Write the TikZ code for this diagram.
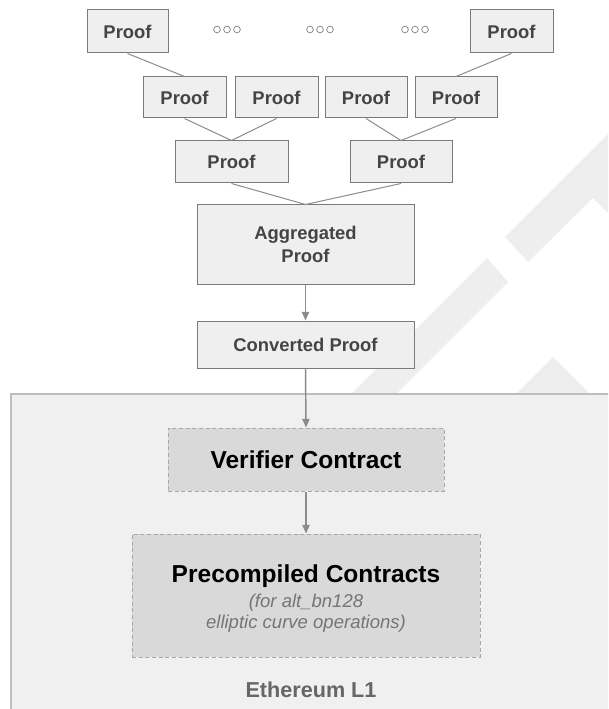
\documentclass[tikz,border=0pt]{standalone}
\usepackage{fontspec}
\setmainfont{Liberation Sans}
\usetikzlibrary{arrows.meta}
\definecolor{boxfill}{HTML}{EFEFEF}
\definecolor{boxline}{HTML}{7A7A7A}
\definecolor{proofink}{HTML}{444444}
\definecolor{wire}{HTML}{8C8C8C}
\definecolor{chainfill}{HTML}{F0F0F0}
\definecolor{chainline}{HTML}{BDBDBD}
\definecolor{contractfill}{HTML}{D9D9D9}
\definecolor{contractline}{HTML}{A8A8A8}
\definecolor{markfill}{HTML}{EEEEEE}
\definecolor{noteink}{HTML}{757575}
\definecolor{chainink}{HTML}{666666}
\begin{document}
\begin{tikzpicture}[x=0.75pt,y=-0.75pt,
  proofbox/.style={draw=boxline, fill=boxfill, line width=0.75pt, inner sep=0pt,
    text=proofink, font=\fontsize{13.8}{17.25}\selectfont\bfseries, align=center},
  contractbox/.style={draw=contractline, fill=contractfill, dash pattern=on 3pt off 2pt,
    line width=0.75pt, inner sep=0pt, align=center},
  titletext/.style={anchor=base, inner sep=0pt, font=\fontsize{18.4}{21}\selectfont\bfseries},
  notetext/.style={anchor=base, inner sep=0pt, text=noteink, font=\fontsize{13.9}{16}\selectfont\itshape},
  link/.style={draw=wire, line width=0.75pt},
  flow/.style={draw=wire, line width=1.1pt, -{Triangle[length=6.5pt,width=5.5pt]}},
  ring/.style={circle, draw=wire, line width=0.6pt, minimum size=5pt, inner sep=0pt}
]
\useasboundingbox (0,0) rectangle (608,709);
\clip (0,0) rectangle (608,709);
\fill[white] (0,0) rectangle (608,709);

% faint logo stripes in the background
\fill[markfill] (505,237) -- (650,92) -- (650,255) -- (593,198) -- (528,262) -- cycle;
\fill[markfill] (487,258) -- (508,282) -- (380,410) -- (335,410) -- cycle;
\fill[markfill] (553,357) -- (610,414) -- (496,414) -- cycle;

% Ethereum L1 area
\node[draw=chainline, fill=chainfill, line width=0.9pt, minimum width=456.75pt,
  minimum height=244.5pt, inner sep=0pt] (chain) at (315.5,557) {};
\node[anchor=base, text=chainink, font=\fontsize{16.2}{19}\selectfont\bfseries]
  (chainlabel) at (311,697) {Ethereum L1};

% proof tree
\node[proofbox, minimum width=60.75pt, minimum height=32.25pt] (p1) at (127.5,31.5) {Proof};
\node[proofbox, minimum width=62.25pt, minimum height=32.25pt] (p2) at (511.5,31.5) {Proof};

\foreach \gx [count=\gi] in {227,320,415}{
  \foreach \dx [count=\di] in {-10,0,10}{
    \node[ring] (dot\gi\di) at (\gx+\dx,29.5) {};
  }
}

\node[proofbox, minimum width=62.25pt, minimum height=30.75pt] (qa) at (184.5,97.5) {Proof};
\node[proofbox, minimum width=62.25pt, minimum height=30.75pt] (qb) at (276.5,97.5) {Proof};
\node[proofbox, minimum width=61.5pt, minimum height=30.75pt] (qc) at (366,97.5) {Proof};
\node[proofbox, minimum width=61.5pt, minimum height=30.75pt] (qd) at (456,97.5) {Proof};

\node[proofbox, minimum width=84.75pt, minimum height=31.5pt] (rl) at (231.5,162) {Proof};
\node[proofbox, minimum width=76.5pt, minimum height=31.5pt] (rr) at (401,162) {Proof};

\node[proofbox, minimum width=162.75pt, minimum height=59.25pt] (agg) at (305.5,244.5) {Aggregated\\Proof};
\node[proofbox, minimum width=162.75pt, minimum height=35.25pt] (conv) at (305.5,344.5) {Converted Proof};

\draw[link] (p1.south) -- (qa.north);
\draw[link] (p2.south) -- (qd.north);
\draw[link] (qa.south) -- (rl.north);
\draw[link] (qb.south) -- (rl.north);
\draw[link] (qc.south) -- (rr.north);
\draw[link] (qd.south) -- (rr.north);
\draw[link] (rl.south) -- (agg.north);
\draw[link] (rr.south) -- (agg.north);

% contracts on L1
\node[contractbox, minimum width=207pt, minimum height=47.25pt] (ver) at (306,459.5) {};
\node[titletext] (vertitle) at (306,468) {Verifier Contract};
\node[contractbox, minimum width=261pt, minimum height=92.25pt] (pre) at (306,595.5) {};
\node[titletext] (pretitle) at (306,582) {Precompiled Contracts};
\node[notetext] (prenote1) at (306,607) {(for alt\_bn128};
\node[notetext] (prenote2) at (306,628) {elliptic curve operations)};

\draw[flow] (agg.south) -- (conv.north);
\draw[flow] (conv.south) -- (ver.north);
\draw[flow] (ver.south) -- (pre.north);
\end{tikzpicture}
\end{document}
